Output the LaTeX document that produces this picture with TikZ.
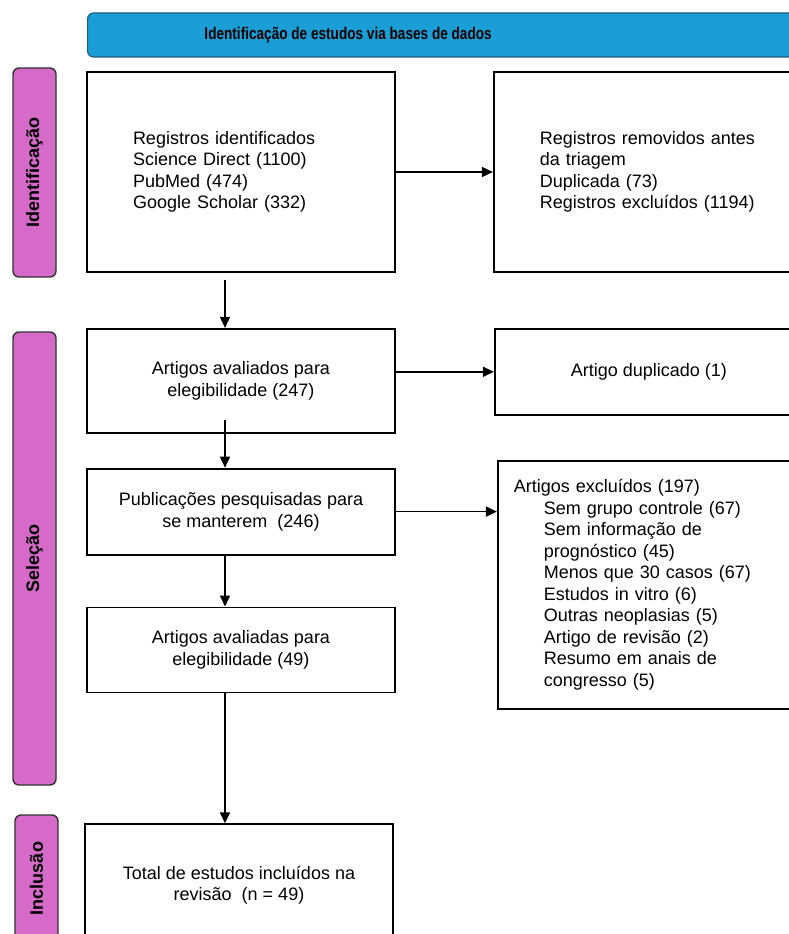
\documentclass[tikz,border=0pt]{standalone}
\usepackage{fontspec}
\setmainfont{Liberation Sans}
\newfontfamily\narrowsf[FakeStretch=0.80]{Liberation Sans}
\usetikzlibrary{positioning, arrows.meta}

\definecolor{barpink}{RGB}{214,106,200}
\definecolor{headblue}{RGB}{27,158,214}
\definecolor{headedge}{RGB}{28,92,126}

\newcommand{\bodyfont}{\fontsize{18}{21.5}\selectfont}
\newcommand{\indsub}{\hspace*{30pt}}

\begin{document}
\begin{tikzpicture}[
    x=1pt, y=-1pt,
    font=\bodyfont,
    box/.style={draw, line width=1.8pt, minimum width=308pt, align=center, inner sep=4pt},
    phase/.style={draw=black!80, fill=barpink, rounded corners=6pt, line width=1.4pt,
                  rotate=90, minimum height=43pt, font=\bfseries\fontsize{18}{20}\selectfont},
    ar/.style={-{Triangle[length=11pt, width=10pt]}, line width=1.7pt},
    node distance=55pt and 97pt,
  ]
  \useasboundingbox (0,0) rectangle (789,934);
  \clip (0,0) rectangle (789,934);

  \node[draw=headedge, fill=headblue, rounded corners=6pt, line width=1.2pt,
        minimum width=730pt, minimum height=44pt, anchor=west,
        label={[xshift=-104.5pt, font=\narrowsf\bfseries\fontsize{17}{20}\selectfont]center:Identificação de estudos via bases de dados}]
        (head) at (87,35) {};

  \node[phase, minimum width=209pt] (fase1) at (34.5,172.5) {Identificação};
  \node[phase, minimum width=453pt] (fase2) at (34.5,558.5) {Seleção};
  \node[phase, minimum width=127pt] (fase3) at (36.5,878.5) {Inclusão};

  \node[box, minimum height=200pt, text width=216pt, inner xsep=46pt, align=left] (reg) at (241,172)
    {Registros identificados\\Science Direct (1100)\\PubMed (474)\\Google Scholar (332)};
  \node[box, right=of reg, minimum height=200pt, text width=240pt, inner xsep=46pt, align=left] (rem)
    {Registros removidos antes\\da triagem\\Duplicada (73)\\Registros excluídos (1194)};
  \node[box, below=of reg, minimum height=104pt] (art) {Artigos avaliados para\\elegibilidade (247)};
  \node[box, right=98pt of art, yshift=9pt, minimum height=86pt] (dup) {Artigo duplicado (1)};
  \node[box, below=34pt of art, minimum height=86pt] (pub) {Publicações pesquisadas para\\se manterem\ \ (246)};
  \node[box, right=101pt of pub.north east, anchor=north west, yshift=8pt, minimum height=248pt,
        text width=280pt, inner xsep=16pt, align=left] (exc)
    {Artigos excluídos (197)\\
     \indsub Sem grupo controle (67)\\
     \indsub Sem informação de\\
     \indsub prognóstico (45)\\
     \indsub Menos que 30 casos (67)\\
     \indsub Estudos in vitro (6)\\
     \indsub Outras neoplasias (5)\\
     \indsub Artigo de revisão (2)\\
     \indsub Resumo em anais de\\
     \indsub congresso (5)};
  \node[box, below=51pt of pub, minimum height=85pt] (ava) {Artigos avaliadas para\\elegibilidade (49)};
  \node[box, below=130pt of ava, xshift=-2pt, minimum height=122pt] (tot) {Total de estudos incluídos na\\revisão\ \ (n = 49)};

  \draw[ar] (reg) -- (rem);
  \draw[ar, shorten <=7pt] ([xshift=-16pt]reg.south) -- ([xshift=-16pt]art.north);
  \draw[ar] (dup.west -| art.east) -- (dup.west);
  \draw[ar, shorten <=-14pt] ([xshift=-16pt]art.south) -- ([xshift=-16pt]pub.north);
  \draw[ar] (pub.east) -- (pub.east -| exc.west);
  \draw[ar] ([xshift=-16pt]pub.south) -- ([xshift=-16pt]ava.north);
  \draw[ar] ([xshift=-16pt]ava.south) -- ([xshift=-16pt]ava.south |- tot.north);
\end{tikzpicture}
\end{document}
